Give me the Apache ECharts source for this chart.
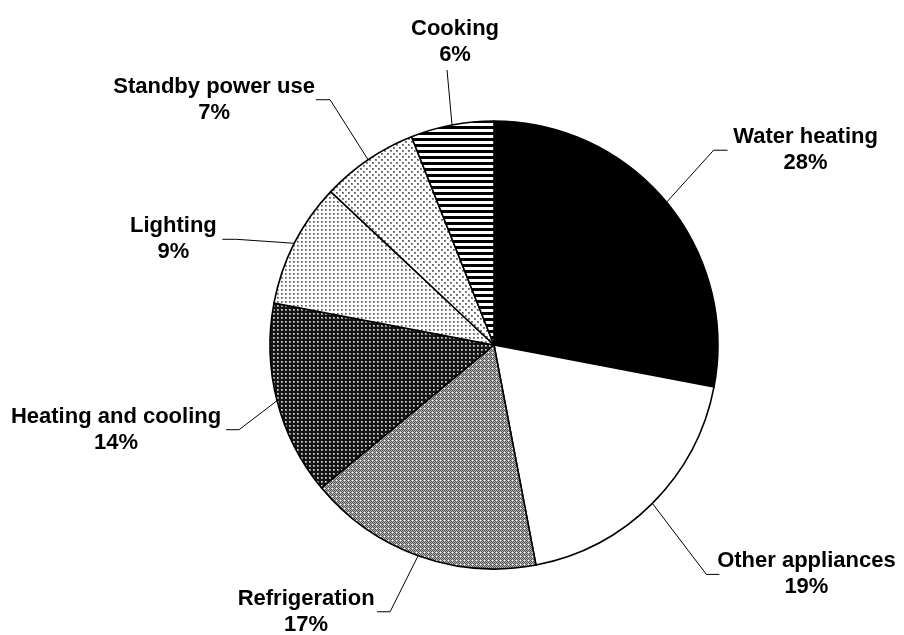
<!DOCTYPE html>
<html>
<head>
<meta charset="utf-8">
<script src="https://cdn.jsdelivr.net/npm/echarts@6/dist/echarts.min.js"></script>
<style>
  html, body { margin: 0; padding: 0; background: #fff; }
  #chart { width: 904px; height: 635px; }
</style>
</head>
<body>
<div id="chart"></div>
<script>
// Household energy use by end use (percent)
const categories = ['Water heating', 'Other appliances', 'Refrigeration', 'Heating and cooling', 'Lighting', 'Standby power use', 'Cooking'];
const shares = [28, 19, 17, 14, 9, 7, 6];

// Monochrome fill patterns, one per slice
function makeTile(size, draw) {
  const c = document.createElement('canvas');
  c.width = size; c.height = size;
  const g = c.getContext('2d');
  draw(g, size);
  return { image: c, repeat: 'repeat' };
}
const patterns = [
  '#000000',
  '#ffffff',
  makeTile(4, (g) => { // fine grey checker
    for (let y = 0; y < 4; y++) for (let x = 0; x < 4; x++) {
      g.fillStyle = (x + y) % 2 ? '#b8b8b8' : '#505050';
      g.fillRect(x, y, 1, 1);
    }
    g.fillStyle = '#ffffff'; g.fillRect(0, 0, 1, 1);
  }),
  makeTile(4, (g) => { // dark with light dots
    g.fillStyle = '#141414'; g.fillRect(0, 0, 4, 4);
    g.fillStyle = '#8c8c8c'; g.fillRect(1, 1, 2, 2);
    g.fillStyle = '#dcdcdc'; g.fillRect(1, 1, 1, 1);
  }),
  makeTile(4, (g) => { // light dots
    g.fillStyle = '#ffffff'; g.fillRect(0, 0, 4, 4);
    g.fillStyle = '#9a9a9a'; g.fillRect(1, 1, 2, 2);
    g.fillStyle = '#555555'; g.fillRect(1, 1, 1, 1);
  }),
  makeTile(6, (g) => { // sparse staggered dots
    g.fillStyle = '#ffffff'; g.fillRect(0, 0, 6, 6);
    g.fillStyle = '#8a8a8a'; g.fillRect(0, 0, 2, 2); g.fillRect(3, 3, 2, 2);
    g.fillStyle = '#555555'; g.fillRect(0, 0, 1, 1); g.fillRect(3, 3, 1, 1);
  }),
  makeTile(6, (g) => { // horizontal stripes
    g.fillStyle = '#ffffff'; g.fillRect(0, 0, 6, 6);
    g.fillStyle = '#000000'; g.fillRect(0, 0, 6, 3);
  })
];

const CX = 494, CY = 345, R = 224;

// Leader-line elbow, line end and label centre, relative to the slice's rim point
const labelGeom = [
  { elbow: [47, -52], end: [61, -52], text: [139, -52] },
  { elbow: [54, 71], end: [67, 71], text: [154, 71] },
  { elbow: [-28, 56], end: [-41, 56], text: [-112, 56] },
  { elbow: [-38, 29], end: [-51, 29], text: [-161, 29] },
  { elbow: [-58, -4], end: [-72, -4], text: [-121, -4] },
  { elbow: [-38, -60], end: [-52, -60], text: [-154, -60] },
  { elbow: [-5, -55], end: [-5, -55], text: [3, -83] }
];

const total = shares.reduce((a, b) => a + b, 0);
function rimPoint(i) {
  let before = 0;
  for (let k = 0; k < i; k++) before += shares[k];
  const frac = (before + shares[i] / 2) / total;
  const a = frac * 2 * Math.PI;
  return [CX + R * Math.sin(a), CY - R * Math.cos(a)];
}

const chart = echarts.init(document.getElementById('chart'), null, { renderer: 'canvas' });
chart.setOption({
  backgroundColor: '#ffffff',
  animation: false,
  series: [{
    type: 'pie',
    center: [CX, CY],
    radius: R,
    startAngle: 90,
    clockwise: true,
    avoidLabelOverlap: false,
    data: categories.map((name, i) => ({
      name: name,
      value: shares[i],
      itemStyle: { color: patterns[i] }
    })),
    itemStyle: { borderColor: '#000000', borderWidth: 1.6 },
    emphasis: { disabled: true },
    label: {
      show: true,
      position: 'outside',
      formatter: '{n|{b}}\n{n|{c}%}',
      rich: {
        n: {
          fontFamily: 'Liberation Sans, Arial, sans-serif',
          fontWeight: 'bold',
          fontSize: 22,
          lineHeight: 26,
          color: '#000000',
          align: 'center'
        }
      }
    },
    labelLine: {
      show: true,
      lineStyle: { color: '#000000', width: 1 }
    },
    labelLayout: function (params) {
      const i = params.dataIndex;
      const p = rimPoint(i);
      const g = labelGeom[i];
      return {
        x: p[0] + g.text[0],
        y: p[1] + g.text[1],
        align: 'center',
        verticalAlign: 'middle',
        labelLinePoints: [
          [p[0], p[1]],
          [p[0] + g.elbow[0], p[1] + g.elbow[1]],
          [p[0] + g.end[0], p[1] + g.end[1]]
        ]
      };
    }
  }]
});
</script>
</body>
</html>
